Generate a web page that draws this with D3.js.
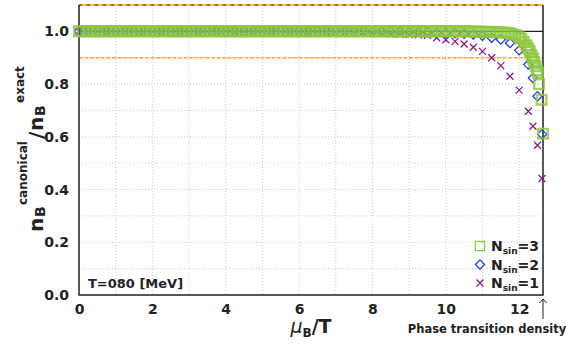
<!DOCTYPE html>
<html>
<head>
<meta charset="utf-8">
<script src="https://cdn.jsdelivr.net/npm/d3@7"></script>
<style>
  body { margin: 0; background: #fff; }
  text { font-family: "DejaVu Sans", sans-serif; font-weight: bold; fill: #222; }
</style>
</head>
<body>
<div id="chart"></div>
<script>
// data
var xTicks = [0, 2, 4, 6, 8, 10, 12];
var yTicks = [0.0, 0.2, 0.4, 0.6, 0.8, 1.0];

// N_sin = 3 (squares)
var nsin3X = [
  0.0, 0.1, 0.2, 0.3, 0.4, 0.5, 0.6, 0.7, 0.8, 0.9,
  1.0, 1.1, 1.2, 1.3, 1.4, 1.5, 1.6, 1.7, 1.8, 1.9,
  2.0, 2.1, 2.2, 2.3, 2.4, 2.5, 2.6, 2.7, 2.8, 2.9,
  3.0, 3.1, 3.2, 3.3, 3.4, 3.5, 3.6, 3.7, 3.8, 3.9,
  4.0, 4.1, 4.2, 4.3, 4.4, 4.5, 4.6, 4.7, 4.8, 4.9,
  5.0, 5.1, 5.2, 5.3, 5.4, 5.5, 5.6, 5.7, 5.8, 5.9,
  6.0, 6.1, 6.2, 6.3, 6.4, 6.5, 6.6, 6.7, 6.8, 6.9,
  7.0, 7.1, 7.2, 7.3, 7.4, 7.5, 7.6, 7.7, 7.8, 7.9,
  8.0, 8.1, 8.2, 8.3, 8.4, 8.5, 8.6, 8.7, 8.8, 8.9,
  9.0, 9.1, 9.2, 9.3, 9.4, 9.5, 9.6, 9.7, 9.8, 9.9,
  10.0, 10.1, 10.2, 10.3, 10.4, 10.5, 10.6, 10.7, 10.8, 10.9,
  11.0, 11.1, 11.2, 11.3, 11.4, 11.5, 11.6, 11.7, 11.8, 11.9,
  12.0, 12.06, 12.13, 12.2, 12.25, 12.29, 12.34, 12.38, 12.41, 12.45,
  12.49, 12.51, 12.54, 12.61, 12.65
];
var nsin3Y = [
  1.0, 1.0, 1.0, 1.0, 1.0, 1.0, 1.0, 1.0, 1.0, 1.0,
  1.0, 1.0, 1.0, 1.0, 1.0, 1.0, 1.0, 1.0, 1.0, 1.0,
  1.0, 1.0, 1.0, 1.0, 1.0, 1.0, 1.0, 1.0, 1.0, 1.0,
  1.0, 1.0, 1.0, 1.0, 1.0, 1.0, 1.0, 1.0, 1.0, 1.0,
  1.0, 1.0, 1.0, 1.0, 1.0, 1.0, 1.0, 1.0, 1.0, 1.0,
  1.0, 1.0, 1.0, 1.0, 1.0, 1.0, 1.0, 1.0, 1.0, 1.0,
  1.0, 1.0, 1.0, 1.0, 1.0, 1.0, 1.0, 1.0, 1.0, 1.0,
  1.0, 1.0, 1.0, 1.0, 1.0, 1.0, 1.0, 1.0, 1.0, 1.0,
  1.0, 1.0, 1.0, 1.0, 1.0, 1.0, 1.0, 1.0, 1.0, 1.0,
  1.0, 1.0, 1.0, 1.0, 1.0, 1.0, 1.0, 1.0, 1.0, 1.0,
  1.0, 1.0, 1.0, 1.0, 1.0, 1.0, 1.0, 1.0, 0.999, 0.999,
  0.999, 0.999, 0.998, 0.998, 0.997, 0.997, 0.996, 0.994, 0.991, 0.986,
  0.978, 0.972, 0.960, 0.947, 0.935, 0.925, 0.909, 0.897, 0.884, 0.868,
  0.852, 0.842, 0.800, 0.741, 0.612
];

// N_sin = 2 (diamonds) and N_sin = 1 (crosses) share the same grid
var nsinX = [
  0.0, 0.25, 0.5, 0.75, 1.0, 1.25, 1.5, 1.75, 2.0, 2.25,
  2.5, 2.75, 3.0, 3.25, 3.5, 3.75, 4.0, 4.25, 4.5, 4.75,
  5.0, 5.25, 5.5, 5.75, 6.0, 6.25, 6.5, 6.75, 7.0, 7.25,
  7.5, 7.75, 8.0, 8.25, 8.5, 8.75, 9.0, 9.25, 9.5, 9.75,
  10.0, 10.25, 10.5, 10.75, 11.0, 11.25, 11.5, 11.75, 12.0, 12.25,
  12.375, 12.5, 12.625
];
var nsin2Y = [
  1.0, 1.0, 1.0, 1.0, 1.0, 1.0, 1.0, 1.0, 1.0, 1.0,
  1.0, 1.0, 1.0, 1.0, 1.0, 1.0, 1.0, 1.0, 1.0, 1.0,
  1.0, 1.0, 1.0, 1.0, 1.0, 1.0, 1.0, 1.0, 1.0, 1.0,
  1.0, 1.0, 0.999, 0.999, 0.999, 0.998, 0.998, 0.997, 0.996, 0.995,
  0.994, 0.993, 0.991, 0.988, 0.983, 0.976, 0.969, 0.956, 0.928, 0.874,
  0.823, 0.754, 0.610
];
var nsin1Y = [
  1.0, 1.0, 1.0, 1.0, 1.0, 1.0, 1.0, 1.0, 1.0, 1.0,
  1.0, 1.0, 1.0, 1.0, 1.0, 1.0, 1.0, 1.0, 1.0, 1.0,
  1.0, 1.0, 1.0, 1.0, 0.999, 0.999, 0.999, 0.999, 0.998, 0.998,
  0.997, 0.996, 0.995, 0.993, 0.991, 0.989, 0.988, 0.987, 0.985, 0.976,
  0.968, 0.962, 0.952, 0.940, 0.924, 0.900, 0.870, 0.830, 0.777, 0.697,
  0.640, 0.568, 0.442
];

var svgWidth = 566;
var svgHeight = 351;
var margin = { top: 5, right: 23, bottom: 56, left: 79 };
var width = svgWidth - margin.left - margin.right;
var height = svgHeight - margin.top - margin.bottom;

var svg = d3.select("#chart")
  .append("svg")
  .attr("width", svgWidth)
  .attr("height", svgHeight);

var chartGroup = svg.append("g")
  .attr("transform", `translate(${margin.left}, ${margin.top})`);

var xScale = d3.scaleLinear().domain([0, 12.65]).range([0, width]);
var yScale = d3.scaleLinear().domain([0, 1.1]).range([height, 0]);

// dotted grid
chartGroup.append("g")
  .selectAll("line")
  .data(d3.range(1, 13))
  .enter()
  .append("line")
  .attr("x1", d => xScale(d)).attr("x2", d => xScale(d))
  .attr("y1", 0).attr("y2", height)
  .attr("stroke", "#c8c8c8")
  .attr("stroke-dasharray", "1,2");

chartGroup.append("g")
  .selectAll("line")
  .data(d3.range(1, 11).map(d => d / 10))
  .enter()
  .append("line")
  .attr("x1", 0).attr("x2", width)
  .attr("y1", d => yScale(d)).attr("y2", d => yScale(d))
  .attr("stroke", "#c8c8c8")
  .attr("stroke-dasharray", "1,2");

// reference lines
chartGroup.append("line")
  .attr("x1", 0).attr("x2", width)
  .attr("y1", yScale(1.0)).attr("y2", yScale(1.0))
  .attr("stroke", "#222").attr("stroke-width", 1.3);

chartGroup.append("line")
  .attr("x1", 0).attr("x2", width)
  .attr("y1", yScale(0.9)).attr("y2", yScale(0.9))
  .attr("stroke", "#f7ad2f").attr("stroke-width", 1.4)
  .attr("stroke-dasharray", "4,1.5");

chartGroup.append("line")
  .attr("x1", 0).attr("x2", width)
  .attr("y1", yScale(1.1)).attr("y2", yScale(1.1))
  .attr("stroke", "#f5b04a").attr("stroke-width", 2);
chartGroup.append("line")
  .attr("x1", 0).attr("x2", width)
  .attr("y1", yScale(1.1)).attr("y2", yScale(1.1))
  .attr("stroke", "#333").attr("stroke-width", 1)
  .attr("stroke-dasharray", "3,5");

// axes (no tick marks, only labels)
var bottomAxis = d3.axisBottom(xScale).tickValues(xTicks).tickSize(0).tickPadding(9)
  .tickFormat(d3.format("d"));
var leftAxis = d3.axisLeft(yScale).tickValues(yTicks).tickSize(0).tickPadding(10)
  .tickFormat(d3.format(".1f"));

var xAxis = chartGroup.append("g")
  .attr("transform", `translate(0, ${height})`)
  .call(bottomAxis);
var yAxis = chartGroup.append("g")
  .call(leftAxis);

[xAxis, yAxis].forEach(function(ax) {
  ax.select(".domain").remove();
  ax.selectAll("text")
    .style("font-family", "DejaVu Sans")
    .style("font-weight", "bold")
    .style("font-size", "14px")
    .attr("fill", "#222");
});

// frame: left, bottom, right
chartGroup.append("path")
  .attr("d", `M0,${yScale(1.1)}V${height}H${width}V${yScale(1.1)}`)
  .attr("fill", "none")
  .attr("stroke", "#222")
  .attr("stroke-width", 1.5);

// markers
var crosses = nsinX.map((x, i) => ({ x: x, y: nsin1Y[i] }));
var diamonds = nsinX.map((x, i) => ({ x: x, y: nsin2Y[i] }));
var squares = nsin3X.map((x, i) => ({ x: x, y: nsin3Y[i] }));

var crossPath = "M-3.5,-3.5L3.5,3.5M-3.5,3.5L3.5,-3.5";
var diamondPath = "M0,-4.6L4.6,0L0,4.6L-4.6,0Z";
var squarePath = "M-4.8,-4.8H4.8V4.8H-4.8Z";

chartGroup.append("g")
  .selectAll("path")
  .data(crosses)
  .enter()
  .append("path")
  .attr("transform", d => `translate(${xScale(d.x)},${yScale(d.y)})`)
  .attr("d", crossPath)
  .attr("fill", "none")
  .attr("stroke", "#8a1d8c")
  .attr("stroke-width", 1.3);

chartGroup.append("g")
  .selectAll("path")
  .data(diamonds)
  .enter()
  .append("path")
  .attr("transform", d => `translate(${xScale(d.x)},${yScale(d.y)})`)
  .attr("d", diamondPath)
  .attr("fill", "none")
  .attr("stroke", "#1f2ff5")
  .attr("stroke-width", 1.2);

chartGroup.append("g")
  .selectAll("path")
  .data(squares)
  .enter()
  .append("path")
  .attr("transform", d => `translate(${xScale(d.x)},${yScale(d.y)})`)
  .attr("d", squarePath)
  .attr("fill", "none")
  .attr("stroke", "#8cc63f")
  .attr("stroke-opacity", 0.8)
  .attr("stroke-width", 2.4);

// legend
var legendItems = [
  { label: "3", path: "M-4.6,-4.6H4.6V4.6H-4.6Z", color: "#8cc63f", w: 1.3 },
  { label: "2", path: diamondPath, color: "#1f2ff5", w: 1.2 },
  { label: "1", path: crossPath, color: "#8a1d8c", w: 1.3 }
];
var legend = svg.append("g");
legendItems.forEach(function(item, i) {
  var y = 246 + i * 18.5;
  legend.append("path")
    .attr("transform", `translate(480,${y})`)
    .attr("d", item.path)
    .attr("fill", "none")
    .attr("stroke", item.color)
    .attr("stroke-width", item.w);
  var t = legend.append("text")
    .attr("x", 491)
    .attr("y", y + 5)
    .style("font-size", "14px");
  t.append("tspan").text("N");
  t.append("tspan").attr("dy", 3).style("font-size", "9px").text("sin");
  t.append("tspan").attr("dy", -3).text("=" + item.label);
});

// temperature note
svg.append("text")
  .attr("x", 88)
  .attr("y", 288)
  .style("font-size", "13px")
  .text("T=080 [MeV]");

// phase transition marker
svg.append("path")
  .attr("d", "M543,319V299M539.5,303L543,299L546.5,303")
  .attr("fill", "none")
  .attr("stroke", "#222")
  .attr("stroke-width", 1);

svg.append("text")
  .attr("x", 487)
  .attr("y", 333)
  .attr("text-anchor", "middle")
  .style("font-size", "11.5px")
  .text("Phase transition density");

// x axis label
var xl = svg.append("text")
  .attr("x", 311)
  .attr("y", 333)
  .attr("text-anchor", "middle")
  .style("font-size", "19px");
xl.append("tspan").style("font-style", "italic").style("font-weight", "normal").text("μ");
xl.append("tspan").attr("dy", 4).style("font-size", "12px").text("B");
xl.append("tspan").attr("dy", -4).text("/T");

// y axis label (rotated)
var yl = svg.append("g").attr("transform", "rotate(-90)");
var ylParts = [
  { t: "n", x: -232, y: 43, s: 20 },
  { t: "B", x: -217, y: 45, s: 14 },
  { t: "canonical", x: -205, y: 27, s: 12 },
  { t: "/", x: -139, y: 43, s: 20 },
  { t: "n", x: -131, y: 43, s: 20 },
  { t: "B", x: -116, y: 45, s: 14 },
  { t: "exact", x: -103, y: 24, s: 12 }
];
ylParts.forEach(function(p) {
  yl.append("text")
    .attr("x", p.x)
    .attr("y", p.y)
    .style("font-size", p.s + "px")
    .text(p.t);
});
</script>
</body>
</html>
